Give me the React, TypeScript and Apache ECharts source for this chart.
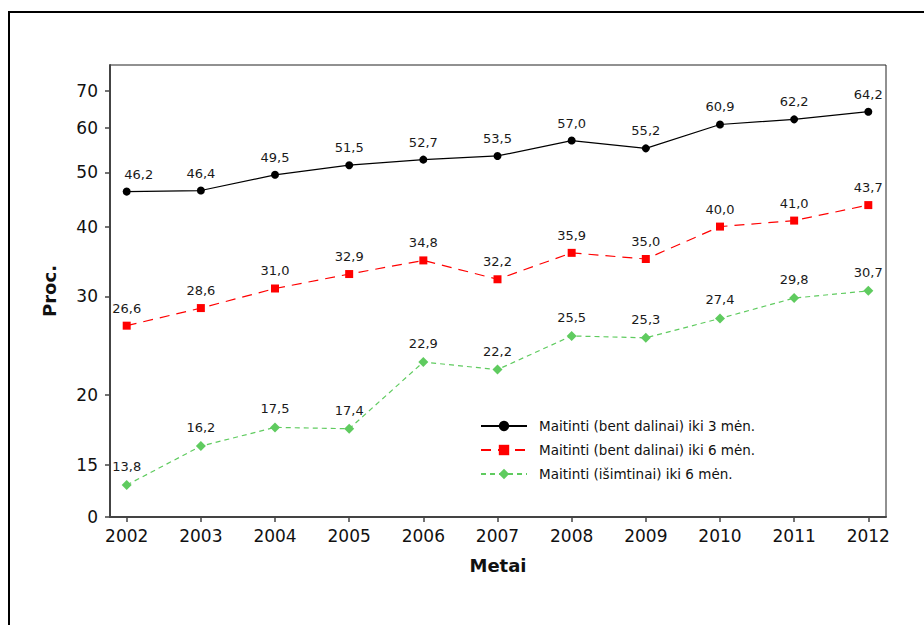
import React, { useEffect, useRef } from "react";
import * as echarts from "echarts";

const years = [2002, 2003, 2004, 2005, 2006, 2007, 2008, 2009, 2010, 2011, 2012];
const seriesNames = [
  "Maitinti (bent dalinai) iki 3 mėn.",
  "Maitinti (bent dalinai) iki 6 mėn.",
  "Maitinti (išimtinai) iki 6 mėn.",
];
const upTo3 = [46.2, 46.4, 49.5, 51.5, 52.7, 53.5, 57.0, 55.2, 60.9, 62.2, 64.2];
const upTo6 = [26.6, 28.6, 31.0, 32.9, 34.8, 32.2, 35.9, 35.0, 40.0, 41.0, 43.7];
const exclusive6 = [13.8, 16.2, 17.5, 17.4, 22.9, 22.2, 25.5, 25.3, 27.4, 29.8, 30.7];
const yTickValues = [15, 20, 30, 40, 50, 60, 70];
const yBottomValue = 12.1; // bottom of the broken log axis, labelled "0"
const yTopValue = 77.8;

const FONT = "DejaVu Sans";
const fmt = (v: number) => v.toFixed(1).replace(".", ",");

export default function App() {
  const ref = useRef<HTMLDivElement>(null);
  useEffect(() => {
    if (!ref.current) return;
    const chart = echarts.init(ref.current, undefined, { renderer: "svg" });
    const yMin = Math.log10(yBottomValue);
    const yMax = Math.log10(yTopValue);
    const yCustom = [yMin, ...yTickValues.map((v) => Math.log10(v))];

    const mk = (
      name: string,
      vals: number[],
      color: string,
      symbol: string,
      symbolSize: number,
      lineType: any,
      firstOffset?: number[]
    ) => ({
      name,
      type: "line",
      symbol,
      symbolSize,
      color,
      lineStyle: { color, width: 1.2, type: lineType },
      itemStyle: { color },
      label: {
        show: true,
        position: "top",
        distance: 7,
        fontFamily: FONT,
        fontSize: 13,
        color: "#1a1a1a",
        formatter: (p: any) => fmt(vals[p.dataIndex]),
      },
      data: years.map((y, i) => {
        const d: any = { value: [y, Math.log10(vals[i])] };
        if (i === 0 && firstOffset) d.label = { offset: firstOffset };
        return d;
      }),
    });

    chart.setOption({
      animation: false,
      graphic: [
        {
          type: "rect",
          shape: { x: 9, y: 12, width: 2000, height: 2000 },
          style: { fill: "none", stroke: "#000", lineWidth: 2 },
          silent: true,
        },
      ],
      grid: {
        left: 110,
        right: 38,
        top: 65,
        bottom: 108,
        show: true,
        borderColor: "#222",
        borderWidth: 1,
        backgroundColor: "transparent",
      },
      legend: {
        orient: "vertical",
        left: 480,
        top: 419,
        padding: 0,
        itemWidth: 46,
        itemHeight: 13,
        itemGap: 10,
        textStyle: { fontFamily: FONT, fontSize: 13.5, color: "#111", padding: [0, 0, 0, 7] },
        data: seriesNames,
      },
      xAxis: {
        type: "value",
        min: 2001.7748,
        max: 2012.2387,
        name: "Metai",
        nameLocation: "middle",
        nameGap: 39,
        nameTextStyle: { fontFamily: FONT, fontSize: 18, fontWeight: "bold", color: "#111" },
        axisLine: { show: true, lineStyle: { color: "#444", width: 2 } },
        axisTick: { show: true, length: 5, customValues: years, lineStyle: { color: "#444", width: 1.5 } },
        axisLabel: {
          customValues: years,
          margin: 10,
          fontFamily: FONT,
          fontSize: 17,
          color: "#111",
          formatter: (v: number) => String(Math.round(v)),
        },
        splitLine: { show: false },
      },
      yAxis: {
        type: "value",
        min: yMin,
        max: yMax,
        name: "Proc.",
        nameLocation: "middle",
        nameGap: 52,
        nameRotate: 90,
        nameTextStyle: { fontFamily: FONT, fontSize: 18, fontWeight: "bold", color: "#111" },
        axisLine: { show: true, lineStyle: { color: "#444", width: 2 } },
        axisTick: { show: true, length: 5, customValues: yCustom, lineStyle: { color: "#444", width: 1.5 } },
        axisLabel: {
          customValues: yCustom,
          margin: 12,
          fontFamily: FONT,
          fontSize: 17,
          color: "#111",
          formatter: (v: number) => (Math.abs(v - yMin) < 1e-6 ? "0" : String(Math.round(Math.pow(10, v)))),
        },
        splitLine: { show: false },
      },
      series: [
        mk(seriesNames[0], upTo3, "#000000", "circle", 8, "solid", [12, 0]),
        mk(seriesNames[1], upTo6, "#ff0000", "rect", 8, [10, 7]),
        mk(seriesNames[2], exclusive6, "#5fcb5f", "diamond", 10, [5, 4]),
      ],
    });
    return () => chart.dispose();
  }, []);
  return (
    <div
      ref={ref}
      style={{ position: "fixed", left: 0, top: 0, width: 924, height: 625, background: "#fff" }}
    />
  );
}
